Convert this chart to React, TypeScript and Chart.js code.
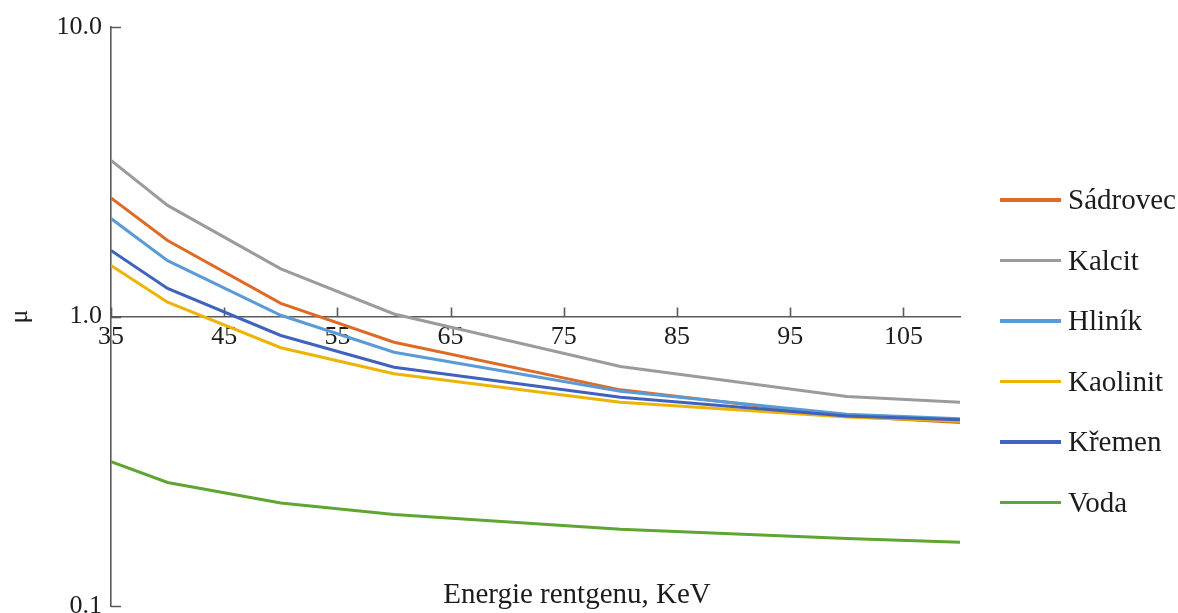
import React, { useEffect, useRef } from "react";
import { Chart, registerables } from "chart.js";

Chart.register(...registerables);

// ---- data ----
const energies = [35, 40, 50, 60, 80, 100, 110];
const seriesNames = ["Sádrovec", "Kalcit", "Hliník", "Kaolinit", "Křemen", "Voda"];
const sadrovec = [2.57, 1.83, 1.11, 0.815, 0.558, 0.452, 0.43];
const kalcit = [3.46, 2.42, 1.46, 1.02, 0.672, 0.529, 0.506];
const hlinik = [2.18, 1.56, 1.01, 0.753, 0.552, 0.46, 0.443];
const kaolinit = [1.5, 1.12, 0.78, 0.634, 0.506, 0.45, 0.435];
const kremen = [1.69, 1.25, 0.86, 0.668, 0.526, 0.453, 0.44];
const voda = [0.315, 0.267, 0.227, 0.207, 0.184, 0.171, 0.166];
const seriesColors = ["#DD6B26", "#9B9B9B", "#5B9BD5", "#EDB305", "#3F62BE", "#5FA531"];
const xTicks = [35, 45, 55, 65, 75, 85, 95, 105];
const yTicks = [0.1, 1, 10];
const yTickLabels = ["0.1", "1.0", "10.0"];
const xTitle = "Energie rentgenu, KeV";
const yTitle = "μ";

const FONT = "'Liberation Serif', 'Times New Roman', serif";
const TEXT = "#1c1c1c";
const AXIS = "#595959";

const allSeries = [sadrovec, kalcit, hlinik, kaolinit, kremen, voda];

const decorPlugin = {
  id: "decor",
  beforeDatasetsDraw(chart: any) {
    const { ctx, scales } = chart;
    const x = scales.x;
    const y = scales.y;
    const axisY = y.getPixelForValue(1);
    ctx.save();
    ctx.strokeStyle = AXIS;
    ctx.lineWidth = 1.6;
    ctx.beginPath();
    xTicks.forEach((v) => {
      const px = Math.round(x.getPixelForValue(v)) + 0.5;
      ctx.moveTo(px, axisY);
      ctx.lineTo(px, axisY - 9);
    });
    yTicks.forEach((v) => {
      const py = Math.round(y.getPixelForValue(v)) + 0.5;
      ctx.moveTo(x.left, py);
      ctx.lineTo(x.left + 10, py);
    });
    ctx.stroke();
    ctx.restore();
  },
  afterDraw(chart: any) {
    const { ctx } = chart;
    ctx.save();
    ctx.font = `29px ${FONT}`;
    ctx.fillStyle = TEXT;
    ctx.textAlign = "center";
    ctx.textBaseline = "alphabetic";
    ctx.fillText(xTitle, 577, 603);
    ctx.restore();
  },
};

export default function App() {
  const ref = useRef<HTMLCanvasElement | null>(null);

  useEffect(() => {
    if (!ref.current) return;
    const chart = new Chart(ref.current, {
      type: "line",
      data: {
        datasets: allSeries.map((vals, i) => ({
          label: seriesNames[i],
          data: energies.map((e, j) => ({ x: e, y: vals[j] })),
          borderColor: seriesColors[i],
          backgroundColor: seriesColors[i],
          borderWidth: 3,
          pointRadius: 0,
          pointHoverRadius: 0,
          tension: 0,
          fill: false,
          order: allSeries.length - i,
        })),
      },
      options: {
        animation: false,
        responsive: false,
        maintainAspectRatio: false,
        events: [],
        layout: { padding: { left: 0, top: 27, right: 218, bottom: 7 } },
        plugins: {
          legend: { display: false },
          tooltip: { enabled: false },
          title: { display: false },
        },
        scales: {
          x: {
            type: "linear",
            min: 35,
            max: 110,
            position: { y: 1 } as any,
            afterBuildTicks: (s: any) => {
              s.ticks = xTicks.map((v) => ({ value: v }));
            },
            afterFit: (s: any) => {
              s.paddingLeft = 0;
              s.paddingRight = 0;
            },
            grid: { display: false, drawTicks: false },
            border: { display: true, color: AXIS, width: 1.6 },
            ticks: {
              autoSkip: false,
              maxRotation: 0,
              padding: 5,
              color: TEXT,
              font: { family: FONT, size: 26 },
              callback: (v: any) => String(v),
            },
          },
          y: {
            type: "logarithmic",
            min: 0.1,
            max: 10,
            position: "left",
            afterBuildTicks: (s: any) => {
              s.ticks = yTicks.map((v) => ({ value: v }));
            },
            afterFit: (s: any) => {
              s.width = 111;
              s.paddingTop = 0;
              s.paddingBottom = 0;
            },
            grid: { display: false, drawTicks: false },
            border: { display: true, color: AXIS, width: 1.6 },
            ticks: {
              autoSkip: false,
              padding: 9,
              color: TEXT,
              font: { family: FONT, size: 26 },
              callback: (_v: any, idx: number) => yTickLabels[idx],
            },
            title: {
              display: true,
              text: yTitle,
              color: TEXT,
              font: { family: FONT, size: 26 },
              padding: { top: 5, bottom: 0 },
            },
          },
        },
      },
      plugins: [decorPlugin],
    } as any);
    return () => chart.destroy();
  }, []);

  return (
    <div
      style={{
        position: "fixed",
        left: 0,
        top: 0,
        width: 1178,
        height: 613,
        background: "#fff",
        overflow: "hidden",
      }}
    >
      <canvas ref={ref} width={1178} height={613} style={{ display: "block" }} />
      <div
        style={{
          position: "absolute",
          left: 1000,
          top: 200 - 30.25,
          display: "flex",
          flexDirection: "column",
        }}
      >
        {seriesNames.map((name, i) => (
          <div
            key={name}
            style={{ height: 60.5, display: "flex", alignItems: "center" }}
          >
            <div
              style={{
                width: 61,
                height: 3.5,
                background: seriesColors[i],
                marginRight: 7,
              }}
            />
            <span
              style={{
                fontFamily: FONT,
                fontSize: 29,
                color: TEXT,
                lineHeight: 1.15,
                whiteSpace: "nowrap",
              }}
            >
              {name}
            </span>
          </div>
        ))}
      </div>
    </div>
  );
}
